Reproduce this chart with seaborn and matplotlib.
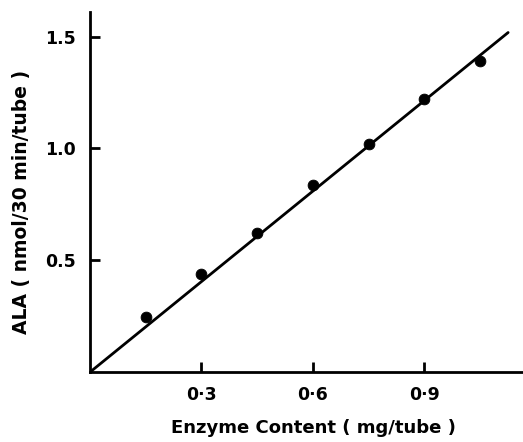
import matplotlib
matplotlib.use('Agg')
import matplotlib.pyplot as plt
import seaborn as sns
import pandas as pd

# Enzyme content (mg/tube) vs ALA formed (nmol/30 min/tube)
enzyme = [0.15, 0.30, 0.45, 0.60, 0.75, 0.90, 1.05]
ala = [0.245, 0.44, 0.62, 0.835, 1.02, 1.22, 1.39]

# fitted line through origin
fit_x = [0.0, 1.125]
fit_y = [0.0, 1.518]

x_ticks = [0.3, 0.6, 0.9]
x_ticklabels = ['0·3', '0·6', '0·9']
y_ticks = [0.5, 1.0, 1.5]
y_ticklabels = ['0.5', '1.0', '1.5']

sns.set_style('ticks', {'xtick.direction': 'in', 'ytick.direction': 'in',
                        'axes.edgecolor': 'black', 'text.color': 'black',
                        'xtick.color': 'black', 'ytick.color': 'black',
                        'axes.labelcolor': 'black'})
plt.rcParams['font.family'] = ['DejaVu Sans']

df = pd.DataFrame({'enzyme': enzyme, 'ala': ala})
fit = pd.DataFrame({'x': fit_x, 'y': fit_y})

fig = plt.figure(figsize=(5.23, 4.42), dpi=100)
ax = fig.add_axes([0.172, 0.158, 0.828, 0.815])

sns.lineplot(data=fit, x='x', y='y', ax=ax, color='black', linewidth=2)
sns.scatterplot(data=df, x='enzyme', y='ala', ax=ax, color='black', s=60,
                edgecolor='black', zorder=3)

ax.set_xlim(0, 1.165)
ax.set_ylim(0, 1.61)
ax.set_xticks(x_ticks)
ax.set_xticklabels(x_ticklabels)
ax.set_yticks(y_ticks)
ax.set_yticklabels(y_ticklabels)
ax.tick_params(direction='in', length=7, width=2, labelsize=12.5, pad=10,
               colors='black')
for lab in ax.get_xticklabels() + ax.get_yticklabels():
    lab.set_fontweight('bold')

for side in ['top', 'right']:
    ax.spines[side].set_visible(False)
for side in ['left', 'bottom']:
    ax.spines[side].set_linewidth(2)
    ax.spines[side].set_color('black')

ax.set_xlabel('Enzyme Content ( mg/tube )', fontsize=13, fontweight='bold',
              color='black')
ax.set_ylabel('ALA ( nmol/30 min/tube )', fontsize=13.5, fontweight='bold',
              color='black')
ax.xaxis.set_label_coords(0.517, -0.13)
ax.yaxis.set_label_coords(-0.136, 0.472)

fig.savefig('out.png', dpi=100)
